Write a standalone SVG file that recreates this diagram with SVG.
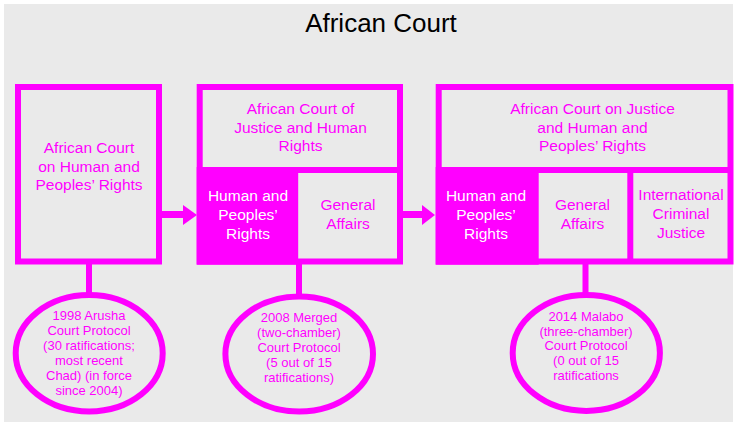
<svg xmlns="http://www.w3.org/2000/svg" width="736" height="424" viewBox="0 0 736 424">
<style>
.bg{fill:#eaeaea}
.box{fill:none;stroke:#ff00ff;stroke-width:6}
.fill{fill:#ff00ff}
.ln{stroke:#ff00ff;stroke-width:6;fill:none}
.ell{fill:none;stroke:#ff00ff;stroke-width:6}
text{font-family:"Liberation Sans",Arial,sans-serif;text-anchor:middle}
.t{font-size:15.5px;fill:#ff00ff}
.w{font-size:15.5px;fill:#ffffff}
.s{font-size:13px;fill:#ff00ff}
.title{font-size:26px;fill:#000000}
</style>
<rect class="bg" x="4" y="4" width="729" height="418"/>
<text class="title" x="381" y="32">African Court</text>

<g id="connectors">
  <line class="ln" x1="159" y1="214.5" x2="185" y2="214.5" style="stroke-width:7"/>
  <polygon class="fill" points="183,205 197,215 183,225"/>
  <line class="ln" x1="400" y1="214.5" x2="424" y2="214.5" style="stroke-width:7"/>
  <polygon class="fill" points="422,205 435,215 422,225"/>
  <line class="ln" x1="89" y1="264" x2="89" y2="296"/>
  <line class="ln" x1="299" y1="264" x2="299" y2="297"/>
  <line class="ln" x1="585.5" y1="264" x2="585.5" y2="296"/>
</g>

<g id="node-achpr">
  <rect class="box" x="18" y="87" width="141" height="174.5"/>
  <text class="t" x="89" y="153">African Court</text>
  <text class="t" x="89" y="171.5">on Human and</text>
  <text class="t" x="89" y="190">Peoples’ Rights</text>
</g>

<g id="node-acjhr">
  <rect class="box" x="199.7" y="87" width="200.3" height="174.5"/>
  <line class="ln" x1="199.7" y1="170" x2="400" y2="170"/>
  <text class="t" x="300.5" y="114.3">African Court of</text>
  <text class="t" x="300.5" y="132.6">Justice and Human</text>
  <text class="t" x="300.5" y="151">Rights</text>
  <rect class="fill" x="196.7" y="167" width="101.5" height="97.7"/>
  <text class="w" x="248" y="201">Human and</text>
  <text class="w" x="248" y="220">Peoples’</text>
  <text class="w" x="248" y="239">Rights</text>
  <text class="t" x="348" y="210">General</text>
  <text class="t" x="348" y="228.7">Affairs</text>
</g>

<g id="node-acjhpr">
  <rect class="box" x="438.7" y="87" width="291.8" height="174.5"/>
  <line class="ln" x1="438.7" y1="170" x2="730.5" y2="170"/>
  <line class="ln" x1="630.3" y1="170" x2="630.3" y2="261.5"/>
  <text class="t" x="592.5" y="114.3">African Court on Justice</text>
  <text class="t" x="592.5" y="132.6">and Human and</text>
  <text class="t" x="592.5" y="151">Peoples’ Rights</text>
  <rect class="fill" x="435.7" y="167" width="103" height="97.7"/>
  <text class="w" x="486" y="201">Human and</text>
  <text class="w" x="486" y="220">Peoples’</text>
  <text class="w" x="486" y="239">Rights</text>
  <text class="t" x="582.5" y="210">General</text>
  <text class="t" x="582.5" y="228.5">Affairs</text>
  <text class="t" x="681" y="199.5">International</text>
  <text class="t" x="681" y="218.5">Criminal</text>
  <text class="t" x="681" y="237.5">Justice</text>
</g>

<g id="node-arusha">
  <ellipse class="ell" cx="89.2" cy="353.2" rx="73.5" ry="58.2"/>
  <text class="s" x="89" y="320.3">1998 Arusha</text>
  <text class="s" x="89" y="335.3">Court Protocol</text>
  <text class="s" x="89" y="350.3">(30 ratifications;</text>
  <text class="s" x="89" y="365.3">most recent</text>
  <text class="s" x="89" y="380.3">Chad) (in force</text>
  <text class="s" x="89" y="395.3">since 2004)</text>
</g>

<g id="node-merged">
  <ellipse class="ell" cx="299.2" cy="354" rx="73.8" ry="57.5"/>
  <text class="s" x="299" y="322.3">2008 Merged</text>
  <text class="s" x="299" y="337.3">(two-chamber)</text>
  <text class="s" x="299" y="352.3">Court Protocol</text>
  <text class="s" x="299" y="367.3">(5 out of 15</text>
  <text class="s" x="299" y="382.3">ratifications)</text>
</g>

<g id="node-malabo">
  <ellipse class="ell" cx="586.3" cy="352.9" rx="73.6" ry="58"/>
  <text class="s" x="586" y="321">2014 Malabo</text>
  <text class="s" x="586" y="335.7">(three-chamber)</text>
  <text class="s" x="586" y="350.4">Court Protocol</text>
  <text class="s" x="586" y="365.1">(0 out of 15</text>
  <text class="s" x="586" y="379.8">ratifications</text>
</g>
</svg>
